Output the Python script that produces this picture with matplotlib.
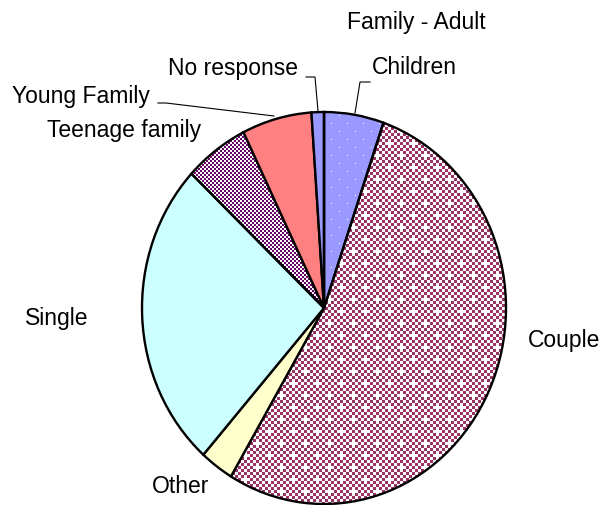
import numpy as np
import matplotlib
matplotlib.use("Agg")
import matplotlib.pyplot as plt
from matplotlib.lines import Line2D

plt.rcParams['font.family'] = ['Liberation Sans', 'DejaVu Sans']

# slice data, clockwise from 12 o'clock
labels = ["Children", "Couple", "Other", "Single", "Teenage family",
          "Young Family", "No response", "Family - Adult"]
shares = [5.3, 53.3, 3.0, 25.5, 5.7, 6.2, 1.1, 0.0]
colors = ["#9999FF", "#993366", "#FFFFCC", "#CCFFFF", "#660066",
          "#FF8080", "#9999FF", "#FFFFFF"]

W, H = 606, 506
fig = plt.figure(figsize=(W / 100, H / 100), dpi=100)

# pie box in pixels (left, top, right, bottom)
pl, pt, pr, pb = 142, 113, 506, 505
ax = fig.add_axes([pl / W, 1 - pb / H, (pr - pl) / W, (pb - pt) / H])
wedges, _ = ax.pie(shares, colors=colors, startangle=90, counterclock=False,
                   wedgeprops=dict(edgecolor="black", linewidth=1.7))
ax.set_aspect("auto")
ax.axis("off")

# fill patterns, one texture pixel per screen pixel
th, tw = pb - pt, pr - pl
yy, xx = np.mgrid[0:th, 0:tw]


def texture(mask_white, base):
    img = np.empty((th, tw, 3))
    img[:] = matplotlib.colors.to_rgb(base)
    img[mask_white] = 1.0
    return img


# Children: blue with sparse white dots
dots = (yy % 8 == 3) & ((xx + 8 * ((yy // 8) % 2)) % 16 == 5)
# Couple: maroon checker with white crosses
ci, cj = xx // 3, yy // 3
check = (ci + cj) % 2 == 1
cross = ((ci % 8 == 2) & (cj % 8 == 2)) | ((ci % 8 == 6) & (cj % 8 == 6))
# Teenage family: fine purple checker
fine = ((xx // 2) + (yy // 2)) % 2 == 1

patterns = {0: texture(dots, colors[0]),
            1: texture(check | cross, colors[1]),
            4: texture(fine, colors[4])}
for idx, img in patterns.items():
    w = wedges[idx]
    w.set_facecolor("none")
    im = ax.imshow(img, extent=(-1, 1, -1, 1), interpolation="nearest",
                   aspect="auto", zorder=0)
    im.set_clip_path(w)
ax.set_xlim(-1, 1)
ax.set_ylim(-1, 1)


def px(x, y):
    return x / W, 1 - y / H


fs = 16.5
# label anchors (left edge, vertical centre) in pixels
label_pos = {
    "Family - Adult": (347, 22),
    "No response": (168, 68),
    "Children": (372, 67),
    "Young Family": (12, 97),
    "Teenage family": (47, 131),
    "Single": (25, 318),
    "Couple": (528, 340),
    "Other": (152, 487),
}
for name, (x, y) in label_pos.items():
    fig.text(*px(x, y), name, fontsize=fs, ha="left", va="center")

# leader lines
leaders = [
    [(306, 78), (315, 78), (318, 112)],
    [(370, 83), (360, 83), (355, 114)],
    [(158, 104), (166, 104), (274, 117)],
]
for pts in leaders:
    xs, ys = zip(*[px(*p) for p in pts])
    fig.add_artist(Line2D(xs, ys, color="black", linewidth=0.8,
                          transform=fig.transFigure))

fig.savefig("out.png", dpi=100)
